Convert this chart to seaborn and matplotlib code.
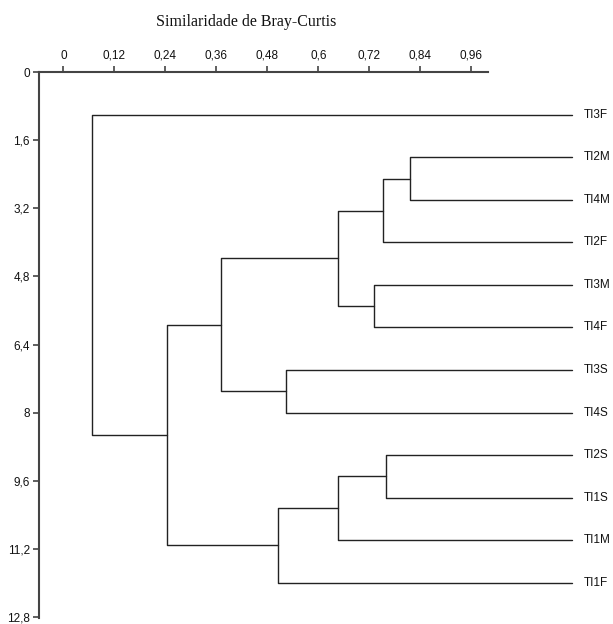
import pandas as pd
import numpy as np
import matplotlib
matplotlib.use('Agg')
import matplotlib.pyplot as plt
import seaborn as sns

# leaves in plotting order (top to bottom)
leaves = ['TI3F', 'TI2M', 'TI4M', 'TI2F', 'TI3M', 'TI4F', 'TI3S', 'TI4S', 'TI2S', 'TI1S', 'TI1M', 'TI1F']
# merges: (child a, child b, similarity) ; 'cN' = cluster made by merge N
merge_a = ['TI2M', 'c0', 'TI3M', 'c1', 'TI3S', 'c3', 'TI2S', 'c6', 'c7', 'c5', 'TI3F']
merge_b = ['TI4M', 'TI2F', 'TI4F', 'c2', 'TI4S', 'c4', 'TI1S', 'TI1M', 'TI1F', 'c8', 'c9']
merge_sim = [0.816, 0.751, 0.731, 0.647, 0.523, 0.370, 0.759, 0.647, 0.505, 0.2435, 0.068]

xticks = [0, 0.12, 0.24, 0.36, 0.48, 0.6, 0.72, 0.84, 0.96]
xtick_labels = ['0', '0,12', '0,24', '0,36', '0,48', '0,6', '0,72', '0,84', '0,96']
yticks = [0, 1.6, 3.2, 4.8, 6.4, 8, 9.6, 11.2, 12.8]
ytick_labels = ['0', '1,6', '3,2', '4,8', '6,4', '8', '9,6', '11,2', '12,8']

leaf_x = 1.196  # leaf branches run past the drawn axis

# node positions
pos = {name: (leaf_x, i + 1) for i, name in enumerate(leaves)}
rows = []
for k, (a, b, h) in enumerate(zip(merge_a, merge_b, merge_sim)):
    xa, ya = pos[a]
    xb, yb = pos[b]
    for px, py in [(xa, ya), (h, ya), (h, yb), (xb, yb)]:
        rows.append({'x': px, 'y': py, 'seg': k})
    pos['c%d' % k] = (h, (ya + yb) / 2)
seg_df = pd.DataFrame(rows)

sns.set_style('white')
plt.rcParams['font.family'] = ['Liberation Sans', 'DejaVu Sans']

fig = plt.figure(figsize=(6.13, 6.24), dpi=100)
ax = fig.add_axes([39 / 613, 6 / 624, (575 - 39) / 613, (624 - 72.3 - 6) / 624])

sns.lineplot(data=seg_df, x='x', y='y', units='seg', estimator=None, sort=False,
             color='#222222', linewidth=1.0, ax=ax, legend=False)

for i, name in enumerate(leaves):
    ax.text(leaf_x + 0.028, i + 1, name, va='center', ha='left', fontsize=8.5, color='#111111')

x0 = -0.0576
x1 = (575 - 63.5) / 425
ax.set_xlim(x0, x1)
ax.set_ylim(12.83, 0)

ax.xaxis.tick_top()
ax.set_xticks(xticks)
ax.set_xticklabels(xtick_labels)
ax.set_yticks(yticks)
ax.set_yticklabels(ytick_labels)
ax.tick_params(axis='both', direction='out', length=4.5, width=1.2, color='#444444',
               labelsize=8.5, labelcolor='#111111', pad=2)
ax.tick_params(axis='x', top=True, bottom=False, pad=3)
ax.tick_params(axis='y', left=True, right=False)
ax.set_xlabel('')
ax.set_ylabel('')

for s in ['right', 'bottom']:
    ax.spines[s].set_visible(False)
for s in ['top', 'left']:
    ax.spines[s].set_color('#444444')
    ax.spines[s].set_linewidth(1.5)
ax.spines['top'].set_bounds(x0, 0.999)

fig.text(246 / 613, 1 - 22 / 624, 'Similaridade de Bray-Curtis', ha='center', va='center',
         fontsize=11.5, family='Liberation Serif', color='#111111')

plt.savefig('out.png', dpi=100)
